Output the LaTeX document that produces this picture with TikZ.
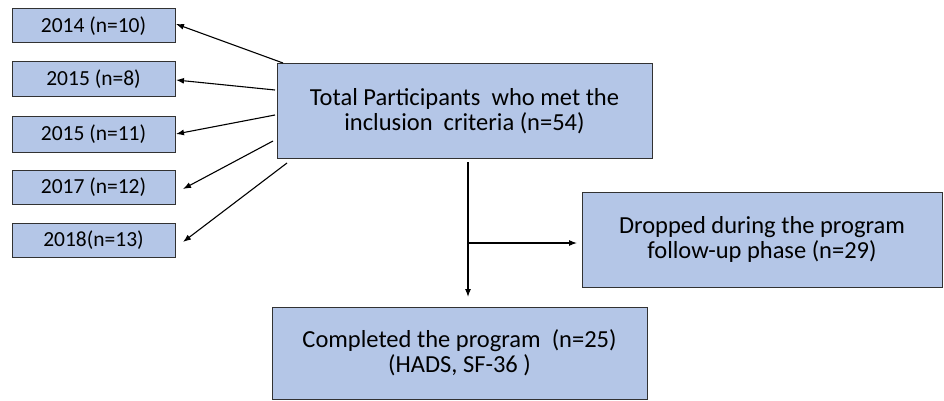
\documentclass[tikz,border=0pt]{standalone}
\usepackage{fontspec}
\setmainfont{Carlito}
\usetikzlibrary{arrows.meta}
\definecolor{boxfill}{RGB}{180,198,231}
\definecolor{boxline}{RGB}{50,50,50}
\tikzset{
  box/.style={draw=boxline, line width=1pt, fill=boxfill, inner sep=0pt, align=center, text=black},
  small/.style={font=\fontsize{21.5}{24}\selectfont},
  big/.style={font=\fontsize{24.5}{25}\selectfont},
  conn/.style={draw=black, line width=1.1pt, -{Latex[length=8pt,width=6pt]}},
}
\begin{document}
\begin{tikzpicture}[x=1pt,y=-1pt]
\useasboundingbox (0,0) rectangle (944,401);
% left boxes
\node[box, small, minimum width=163pt, minimum height=34pt] (y1) at (93.5,26) {2014 (n=10)};
\node[box, small, minimum width=163pt, minimum height=35pt] (y2) at (93.5,79.5) {2015 (n=8)};
\node[box, small, minimum width=163pt, minimum height=35pt] (y3) at (93.5,134.5) {2015 (n=11)};
\node[box, small, minimum width=163pt, minimum height=34pt] (y4) at (93.5,187) {2017 (n=12)};
\node[box, small, minimum width=163pt, minimum height=34pt] (y5) at (93.5,240) {2018(n=13)};
% central
\node[box, big, minimum width=375pt, minimum height=94pt] (tot) at (464.5,111) {Total Participants\ \ who met the\\inclusion\ \ criteria (n=54)};
\node[box, big, minimum width=360pt, minimum height=95pt] (drop) at (762,239.5) {Dropped during the program\\follow-up phase (n=29)};
\node[box, big, minimum width=375pt, minimum height=92pt] (comp) at (459.5,353) {Completed the program\ \ (n=25)\\(HADS, SF-36 )};
% connector ends
\coordinate (s1) at (283,63);
\coordinate (s2) at (275,90);
\coordinate (s3) at (275,115);
\coordinate (s4) at (273,141);
\coordinate (s5) at (287,163);
\coordinate (t1) at (176,24);
\coordinate (t2) at (176,80);
\coordinate (t3) at (176,134);
\coordinate (t4) at (183,189);
\coordinate (t5) at (183,242);
\draw[conn] (s1) -- (t1);
\draw[conn] (s2) -- (t2);
\draw[conn] (s3) -- (t3);
\draw[conn] (s4) -- (t4);
\draw[conn] (s5) -- (t5);
% vertical flow
\coordinate (v0) at (468,162);
\coordinate (vb) at (468,243);
\coordinate (v1) at (468,297);
\coordinate (h1) at (577,243);
\draw[conn] (v0) -- (v1);
\draw[conn] (vb) -- (h1);
\end{tikzpicture}
\end{document}
